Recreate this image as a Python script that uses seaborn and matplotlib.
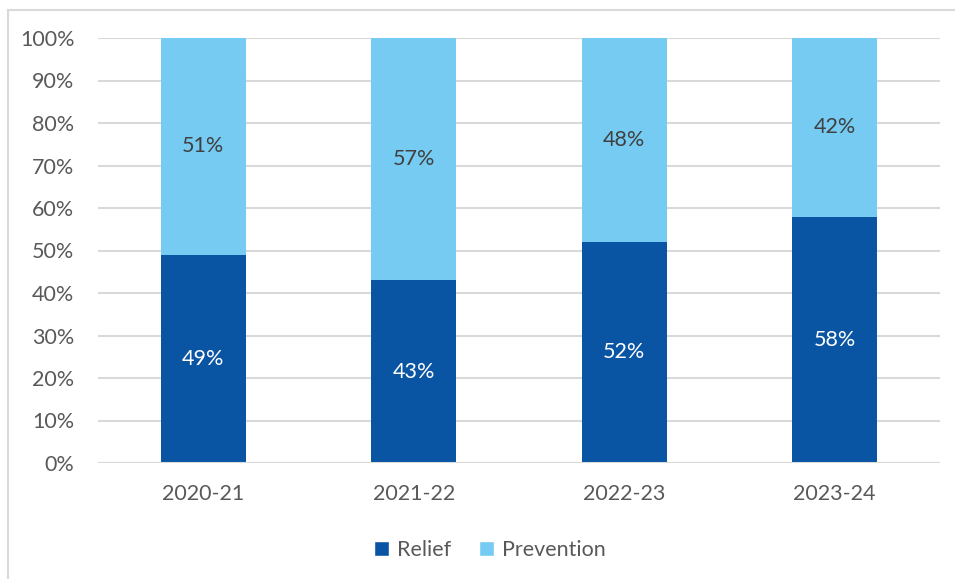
import matplotlib
matplotlib.use("Agg")
import matplotlib.pyplot as plt
from matplotlib.patches import Rectangle, Patch
import seaborn as sns
import pandas as pd

years = ["2020-21", "2021-22", "2022-23", "2023-24"]
relief = [49, 43, 52, 58]
prevention = [51, 57, 48, 42]

relief_color = "#0A55A3"
prevention_color = "#75CBF1"
text_grey = "#595959"

sns.set_theme(style="white")
plt.rcParams["font.family"] = ["Lato", "DejaVu Sans"]

df = pd.DataFrame({
    "year": years,
    "relief": relief,
    "prevention": prevention,
})
df["total"] = df["relief"] + df["prevention"]

W, H = 955, 579
fig = plt.figure(figsize=(W / 100, H / 100), dpi=100)
ax = fig.add_axes([98 / W, 1 - 463 / H, (940 - 98) / W, (463 - 38) / H])

# outer chart frame
fig.patches.append(Rectangle((8 / W, -0.05), 1.1, 1 - 10 / H + 0.05,
                             transform=fig.transFigure, fill=False,
                             edgecolor="#D9D9D9", linewidth=1.5, zorder=0))

# stacked bars: full height in prevention colour, relief drawn over it
sns.barplot(data=df, x="year", y="total", color=prevention_color,
            width=0.405, saturation=1, linewidth=0, ax=ax, zorder=3)
sns.barplot(data=df, x="year", y="relief", color=relief_color,
            width=0.405, saturation=1, linewidth=0, ax=ax, zorder=3)

fs = 15.5
for i, (r, p) in enumerate(zip(relief, prevention)):
    ax.text(i, r / 2, f"{r}%", ha="center", va="center",
            color="white", fontsize=fs, zorder=5)
    ax.text(i, r + p / 2, f"{p}%", ha="center", va="center",
            color="#404040", fontsize=fs, zorder=5)

ax.set_ylim(0, 100)
ax.set_xlim(-0.5, len(years) - 0.5)
ax.set_yticks(range(0, 101, 10))
ax.set_yticklabels([f"{v}%" for v in range(0, 101, 10)])
ax.yaxis.grid(True, color="#D9D9D9", linewidth=1.5, zorder=0)
ax.set_axisbelow(True)
for s in ["top", "right", "left", "bottom"]:
    ax.spines[s].set_visible(False)
ax.axhline(0, color="#D9D9D9", linewidth=1.5, zorder=4)
ax.tick_params(axis="both", length=0, labelsize=fs, labelcolor=text_grey)
ax.tick_params(axis="y", pad=17)
ax.tick_params(axis="x", pad=15)
ax.set_xlabel("")
ax.set_ylabel("")

handles = [Patch(facecolor=relief_color, label="Relief"),
           Patch(facecolor=prevention_color, label="Prevention")]
fig.legend(handles=handles, loc="center", bbox_to_anchor=(0.513, 1 - 550 / H),
           ncol=2, frameon=False, fontsize=fs, labelcolor=text_grey,
           handlelength=0.7, handleheight=0.7, handletextpad=0.35,
           columnspacing=1.3)

fig.savefig("out.png", dpi=100)
